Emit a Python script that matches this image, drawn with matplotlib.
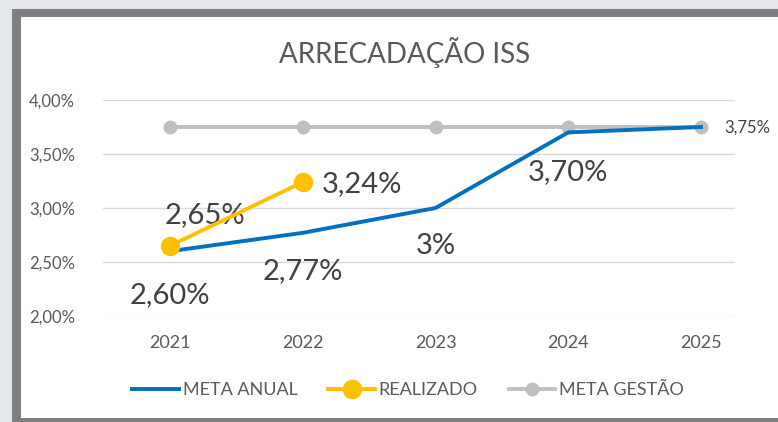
import matplotlib
matplotlib.use('Agg')
import matplotlib.pyplot as plt
from matplotlib.patches import Rectangle
from matplotlib.ticker import FuncFormatter

plt.rcParams['font.family'] = ['Lato', 'DejaVu Sans']

# data
years = ['2021', '2022', '2023', '2024', '2025']
meta_anual = [2.60, 2.77, 3.00, 3.70, 3.75]
realizado = [2.65, 3.24]
meta_gestao = [3.75, 3.75, 3.75, 3.75, 3.75]
labels_anual = ['2,60%', '2,77%', '3%', '3,70%', None]
labels_real = ['2,65%', '3,24%']

blue = '#0070C0'
yellow = '#FFC000'
gray = '#BFBFBF'
txt = '#595959'

W, H = 778, 422
fig = plt.figure(figsize=(W / 100, H / 100), dpi=100, facecolor='#E4E8EC')

# chart frame
fig.patches.append(Rectangle((12 / W, 0), 1, 1 - 9 / H, transform=fig.transFigure,
                             facecolor='#7F7F7F', edgecolor='none', zorder=-10))
fig.patches.append(Rectangle((21 / W, 4 / H), 1, 1 - 21 / H, transform=fig.transFigure,
                             facecolor='white', edgecolor='none', zorder=-9))

ax = fig.add_axes([103 / W, 1 - 316 / H, 632 / W, 216 / H])
ax.set_facecolor('none')
x = list(range(len(years)))

ax.plot(x, meta_gestao, color=gray, lw=2.8, marker='o', ms=9, zorder=2, label='META GESTÃO')
ax.plot(x, meta_anual, color=blue, lw=2.8, zorder=3, label='META ANUAL')
ax.plot(x[:len(realizado)], realizado, color=yellow, lw=2.8, marker='o', ms=13, zorder=4,
        label='REALIZADO')

ax.set_xlim(-0.505, 4.256)
ax.set_ylim(2.0, 4.0)
ax.set_yticks([2.0, 2.5, 3.0, 3.5, 4.0])
ax.yaxis.set_major_formatter(FuncFormatter(lambda v, p: f'{v:.2f}%'.replace('.', ',')))
ax.set_xticks(x)
ax.set_xticklabels(years)
ax.grid(axis='y', color='#D9D9D9', lw=1)
ax.set_axisbelow(True)
for s in ax.spines.values():
    s.set_visible(False)
ax.tick_params(length=0, labelsize=12, labelcolor=txt)
ax.tick_params(axis='y', pad=20)
ax.tick_params(axis='x', pad=14, labelsize=13)

# data labels
fs = 21
anual_off = [(0, -44), (0, -38), (0, -38), (0, -40)]
for i, lab in enumerate(labels_anual):
    if lab:
        ax.annotate(lab, (x[i], meta_anual[i]), xytext=anual_off[i], textcoords='offset pixels',
                    ha='center', va='center', fontsize=fs, color='#404040')
ax.annotate(labels_real[0], (x[0], realizado[0]), xytext=(35, 31), textcoords='offset pixels',
            ha='center', va='center', fontsize=fs, color='#404040')
ax.annotate(labels_real[1], (x[1], realizado[1]), xytext=(59, -2), textcoords='offset pixels',
            ha='center', va='center', fontsize=fs, color='#404040')
ax.annotate('3,75%', (x[4], meta_gestao[4]), xytext=(46, -1), textcoords='offset pixels',
            ha='center', va='center', fontsize=12, color='#404040')

fig.text(405 / W, 1 - 52 / H, 'ARRECADAÇÃO ISS', ha='center', va='center',
         fontsize=20, color=txt)

h, l = ax.get_legend_handles_labels()
order = [1, 2, 0]
ax.legend([h[i] for i in order], [l[i] for i in order], loc='center',
          bbox_to_anchor=(408 / W, 1 - 390 / H), bbox_transform=fig.transFigure,
          ncol=3, frameon=False, fontsize=13, labelcolor=txt, handlelength=2.6,
          handletextpad=0.2, columnspacing=1.7)

fig.savefig('out.png', dpi=100, facecolor=fig.get_facecolor())
